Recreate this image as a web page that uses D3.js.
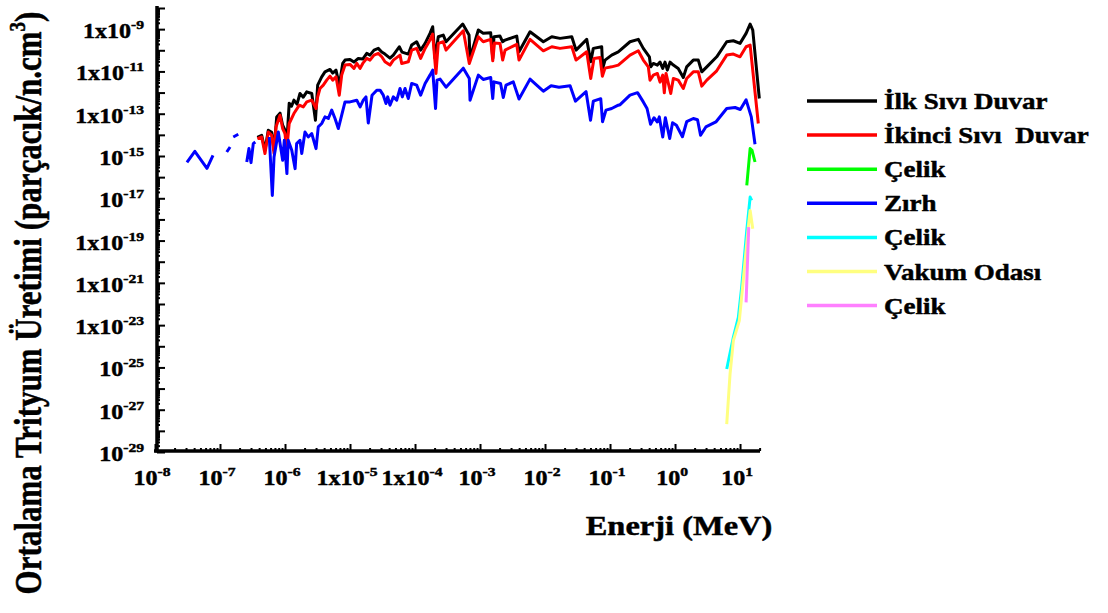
<!DOCTYPE html>
<html><head><meta charset="utf-8">
<script src="https://cdn.jsdelivr.net/npm/d3@7"></script>
<style>
html,body{margin:0;padding:0;background:#fff;}
text{font-family:"Liberation Serif","Times New Roman",serif;font-weight:bold;fill:#000;stroke:#000;stroke-width:0.45px;}
</style></head>
<body><svg id="chart" width="1108" height="613"></svg>
<script>
// ---------------- data ----------------
const seriesNames = ["İlk Sıvı Duvar","İkinci Sıvı  Duvar","Çelik","Zırh","Çelik","Vakum Odası","Çelik"];
const seriesColors = ["#000000","#ff0000","#00ff00","#0000ff","#00ffff","#ffff80","#ff80ff"];

const blackE = [3.75e-7,4.38e-7,4.92e-7,5.53e-7,6.24e-7,6.78e-7,7.45e-7,8.38e-7,9.2e-7,1.0e-6,1.06e-6,1.16e-6,1.26e-6,1.37e-6,1.53e-6,1.70e-6,1.91e-6,2.16e-6,2.58e-6,2.94e-6,3.18e-6,3.67e-6,4.12e-6,4.92e-6,5.42e-6,6.09e-6,6.84e-6,7.72e-6,8.38e-6,1.0e-5,1.15e-5,1.34e-5,1.57e-5,1.81e-5,2.03e-5,2.34e-5,2.72e-5,3.08e-5,3.45e-5,4.12e-5,4.64e-5,5.73e-5,6.31e-5,7.89e-5,8.89e-5,1.06e-4,1.22e-4,1.43e-4,1.70e-4,1.87e-4,2.03e-4,2.28e-4,2.72e-4,3.0e-4,5.42e-4,6.78e-4,7.02e-4,9.42e-4,1.12e-3,1.46e-3,1.57e-3,1.64e-3,2.03e-3,2.23e-3,2.43e-3,3.67e-3,3.98e-3,5.88e-3,9.42e-3,1.27e-2,1.70e-2,2.58e-2,3.0e-2,4.38e-2,5.05e-2,5.53e-2,7.45e-2,7.72e-2,8.38e-2,0.106,0.134,0.203,0.272,0.325,0.403,0.423,0.464,0.535,0.588,0.647,0.702,0.762,0.838,0.942,1.12,1.34,1.51,1.91,2.28,2.58,3.08,4.38,6.24,7.89,10.0,12.4,14.3,15.7,19.8];
const blackV = [7.69e-15,9.57e-15,1.86e-15,1.65e-14,1.33e-14,1.86e-15,7.05e-14,1.06e-13,2.85e-14,1.65e-14,3.21e-15,3.15e-13,2.26e-13,4.37e-13,2.82e-13,9.06e-13,6.05e-13,1.08e-12,9.06e-13,4.92e-14,2.24e-12,5.55e-12,9.57e-12,1.24e-11,8.3e-12,1.15e-11,2.24e-12,2.39e-11,3.44e-11,3.71e-11,2.76e-11,4.13e-11,3.83e-11,7.13e-11,5.93e-11,1.02e-10,1.23e-10,8.22e-11,6.61e-11,4.27e-11,5.93e-11,1.47e-10,8.22e-11,6.61e-11,1.76e-10,2.53e-10,1.02e-10,2.12e-10,6.32e-10,1.30e-9,4.13e-11,4.37e-10,5.25e-10,2.53e-10,1.75e-9,5.25e-10,4.27e-11,9.06e-10,6.32e-10,6.75e-10,4.13e-11,4.37e-10,4.71e-10,2.53e-10,3.04e-10,4.71e-10,8.49e-11,7.53e-10,2.53e-10,4.37e-10,3.66e-10,4.37e-10,1.02e-10,3.29e-10,2.85e-11,1.23e-10,1.47e-10,1.39e-11,3.44e-11,5.93e-11,8.49e-11,2.53e-10,3.29e-10,1.23e-10,4.92e-11,1.65e-11,2.39e-11,1.99e-11,2.76e-11,1.39e-11,2.76e-11,1.15e-11,2.76e-11,1.99e-11,1.39e-11,5.2e-12,1.65e-11,3.44e-11,3.44e-11,9.57e-12,1.65e-11,4.92e-11,2.53e-10,2.82e-10,2.12e-10,6.32e-10,1.75e-9,9.06e-10,5.25e-13];

const redE = [3.75e-7,4.38e-7,4.92e-7,5.53e-7,6.24e-7,6.78e-7,7.27e-7,8.38e-7,9.2e-7,1.0e-6,1.06e-6,1.16e-6,1.37e-6,1.66e-6,1.91e-6,2.16e-6,2.58e-6,3.0e-6,3.18e-6,3.45e-6,3.88e-6,4.38e-6,4.92e-6,5.42e-6,6.09e-6,6.84e-6,7.45e-6,8.38e-6,1.0e-5,1.15e-5,1.27e-5,1.43e-5,1.57e-5,1.81e-5,2.03e-5,2.34e-5,2.72e-5,3.08e-5,3.45e-5,4.12e-5,4.64e-5,5.88e-5,6.24e-5,7.89e-5,8.89e-5,1.06e-4,1.22e-4,1.43e-4,1.70e-4,1.87e-4,2.1e-4,2.28e-4,2.72e-4,3.0e-4,5.53e-4,6.84e-4,9.42e-4,1.12e-3,1.46e-3,1.57e-3,1.67e-3,2.03e-3,2.23e-3,2.43e-3,3.67e-3,3.98e-3,5.88e-3,9.42e-3,1.27e-2,1.70e-2,2.58e-2,3.0e-2,4.38e-2,5.05e-2,5.67e-2,7.02e-2,7.62e-2,8.38e-2,0.106,0.134,0.203,0.272,0.325,0.388,0.412,0.464,0.535,0.588,0.647,0.684,0.727,0.859,0.942,1.12,1.34,1.51,1.91,2.28,2.58,3.08,4.38,6.24,7.89,10.0,12.4,14.3,19.1];
const redV = [6.68e-15,7.94e-15,1.30e-15,1.37e-14,9.57e-15,1.30e-15,2.37e-14,8.49e-14,1.99e-14,1.15e-14,1.86e-15,3.44e-14,1.02e-13,2.53e-13,2.1e-13,3.62e-13,4.37e-13,1.76e-13,6.25e-13,1.56e-12,2.24e-12,3.87e-12,5.98e-12,3.87e-12,5.55e-12,7.53e-13,6.68e-12,1.99e-11,2.15e-11,1.39e-11,2.39e-11,1.39e-11,2.39e-11,4.13e-11,3.44e-11,5.93e-11,7.13e-11,4.92e-11,2.85e-11,1.99e-11,3.44e-11,5.93e-11,2.39e-11,2.85e-11,1.02e-10,1.23e-10,4.13e-11,1.23e-10,3.04e-10,5.86e-10,8.04e-12,2.12e-10,2.53e-10,1.02e-10,8.4e-10,2.39e-11,4.37e-10,2.53e-10,3.29e-10,3.18e-11,2.19e-10,2.12e-10,3.44e-11,1.02e-10,1.91e-10,3.44e-11,3.29e-10,9.47e-11,1.47e-10,1.23e-10,1.47e-10,3.44e-11,8.49e-11,4.66e-12,4.13e-11,4.61e-11,5.98e-12,1.43e-11,1.65e-11,1.99e-11,5.93e-11,9.47e-11,3.44e-11,1.65e-11,3.87e-12,6.68e-12,8.04e-12,3.11e-12,6.68e-12,9.68e-13,8.04e-12,9.06e-13,4.66e-12,3.87e-12,1.56e-12,4.66e-12,9.57e-12,9.57e-12,2.01e-12,3.87e-12,1.07e-11,5.93e-11,6.61e-11,4.92e-11,1.47e-10,1.76e-10,3.44e-14];

const greenE = [12.7,14.3,15.3,17.0];
const greenV = [4.08e-17,2.24e-15,1.86e-15,5.2e-16];

const blueE = [3.1e-8,4.1e-8,6.3e-8,7.8e-8,1.0e-7,1.27e-7,1.43e-7,1.5e-7,1.6e-7,1.91e-7,2.18e-7,2.58e-7,2.79e-7,3.0e-7,3.25e-7,3.49e-7,4.43e-7,5.73e-7,6.38e-7,6.78e-7,7.89e-7,9.2e-7,9.75e-7,1.07e-6,1.12e-6,1.27e-6,1.43e-6,1.51e-6,1.70e-6,1.81e-6,2.03e-6,2.28e-6,2.58e-6,3.0e-6,3.25e-6,3.67e-6,4.12e-6,4.64e-6,5.23e-6,5.88e-6,6.61e-6,7.45e-6,8.38e-6,1.0e-5,1.27e-5,1.43e-5,1.6e-5,1.76e-5,1.91e-5,2.18e-5,2.58e-5,2.9e-5,3.25e-5,3.58e-5,3.8e-5,4.12e-5,4.64e-5,5.23e-5,5.88e-5,6.38e-5,7.02e-5,7.89e-5,8.89e-5,1.06e-4,1.22e-4,1.43e-4,1.70e-4,1.87e-4,2.07e-4,2.18e-4,2.43e-4,3.0e-4,5.53e-4,6.84e-4,7.02e-4,9.42e-4,1.12e-3,1.46e-3,1.57e-3,1.64e-3,2.07e-3,2.28e-3,2.51e-3,3.25e-3,3.98e-3,5.88e-3,9.42e-3,1.24e-2,1.64e-2,2.43e-2,2.94e-2,4.28e-2,5.01e-2,5.53e-2,7.2e-2,7.67e-2,8.67e-2,0.106,0.134,0.143,0.203,0.265,0.325,0.371,0.42,0.475,0.535,0.573,0.647,0.71,0.828,0.916,1.05,1.30,1.51,1.91,2.22,2.47,2.98,4.25,6.24,8.38,10.1,12.4,14.9,17.0];
const blueV = [5.0e-16,1.67e-15,2.61e-16,1.08e-15,null,1.55e-15,2.67e-15,null,7.94e-15,1.07e-14,null,5.2e-16,2.24e-15,4.86e-16,3.87e-15,4.61e-15,null,7.94e-15,1.37e-17,8.97e-16,1.37e-14,6.25e-16,5.55e-15,1.47e-16,5.55e-15,1.86e-15,2.53e-16,3.87e-15,5.55e-15,1.30e-15,1.37e-14,7.94e-15,1.15e-14,2.24e-15,2.37e-14,3.44e-14,7.05e-14,5.93e-14,1.47e-13,5.93e-14,1.99e-14,8.49e-14,3.62e-13,3.62e-13,4.37e-13,2.1e-13,4.37e-13,6.25e-13,3.66e-14,7.53e-13,1.30e-12,1.30e-12,7.53e-13,3.04e-13,6.25e-13,2.53e-13,6.25e-13,4.37e-13,1.56e-12,6.25e-13,1.56e-12,5.25e-13,2.7e-12,2.24e-12,7.53e-13,2.7e-12,6.68e-12,1.15e-11,1.76e-13,3.87e-12,4.32e-12,1.80e-12,1.43e-11,4.66e-12,4.37e-13,6.68e-12,4.18e-12,5.2e-12,5.25e-13,3.21e-12,2.7e-12,5.86e-13,2.24e-12,3.21e-12,4.98e-13,4.32e-12,1.16e-12,2.12e-12,1.80e-12,2.12e-12,3.91e-13,1.10e-12,4.92e-14,3.91e-13,5.14e-13,4.18e-14,1.47e-13,1.76e-13,2.53e-13,2.67e-13,7.53e-13,9.9e-13,3.62e-13,1.76e-13,3.18e-14,6.46e-14,4.08e-14,7.05e-14,7.94e-15,6.46e-14,6.68e-15,3.74e-14,2.85e-14,8.13e-15,4.18e-14,5.93e-14,5.2e-14,9.57e-15,2.37e-14,4.08e-14,1.76e-13,1.97e-13,1.58e-13,4.51e-13,7.05e-14,3.59e-15];

const cyanE = [6.24,7.89,9.42,10.6,12.7,14.3,15.1];
const cyanV = [8.4e-26,2.64e-24,2.34e-23,6.18e-22,3.01e-19,1.14e-17,7.94e-18];

const yellowE = [6.24,7.02,7.89,9.75,11.2,13.4,14.3,15.7];
const yellowV = [2.08e-28,4.86e-26,1.84e-24,1.63e-23,1.29e-21,4.32e-19,2.67e-18,3.62e-19];

const pinkE = [12.4,13.6];
const pinkV = [1.2e-22,4.32e-19];

const xTickValues = [1e-8,1e-7,1e-6,1e-5,1e-4,1e-3,1e-2,1e-1,1,10];
const xTickBase = ["10","10","10","1x10","1x10","10","10","10","10","10"];
const xTickSup  = ["-8","-7","-6","-5","-4","-3","-2","-1","0","1"];
const yTickValues = [1e-9,1e-11,1e-13,1e-15,1e-17,1e-19,1e-21,1e-23,1e-25,1e-27,1e-29];
const yTickBase = ["1x10","1x10","1x10","10","10","1x10","1x10","1x10","10","10","10"];
const yTickSup  = ["-9","-11","-13","-15","-17","-19","-21","-23","-25","-27","-29"];
const xTitle = "Enerji (MeV)";
const yTitle = "Ortalama Trityum Üretimi (parçacık/n.cm";

// ---------------- drawing ----------------
const SX = 1.2; // horizontal stretch of the lettering
const svg = d3.select("#chart");
svg.append("rect").attr("width",1108).attr("height",613).attr("fill","#fff");

const xs = d3.scaleLog().domain([1e-8, 20]).range([155, 759.6]);
const ys = d3.scaleLog().domain([1e-29, 1e-8]).range([452, 8]);

const xMinor = [], yMinor = [], xMajor = [], yMajor = [];
for (let e = -8; e <= 1; e++) { xMajor.push(Math.pow(10, e)); for (let k = 2; k <= 9; k++) { const v = k * Math.pow(10, e); if (v <= 20) xMinor.push(v); } }
for (let e = -29; e <= -8; e++) { yMajor.push(Math.pow(10, e)); if (e < -8) for (let k = 2; k <= 9; k++) yMinor.push(k * Math.pow(10, e)); }

function styleAxis(g){
  g.select(".domain").attr("stroke","#000").attr("stroke-width",3.5);
  g.selectAll(".tick line").attr("stroke","#000").attr("stroke-width",2);
}
const gxMinor = svg.append("g").attr("transform","translate(0,451)")
  .call(d3.axisBottom(xs).tickValues(xMinor).tickSize(-3).tickSizeOuter(0).tickFormat(""));
styleAxis(gxMinor);
gxMinor.select(".domain").remove();
const gx = svg.append("g").attr("transform","translate(0,451)")
  .call(d3.axisBottom(xs).tickValues(xMajor).tickSize(-7).tickSizeOuter(0).tickFormat(""));
styleAxis(gx);
gx.select(".domain").attr("d","M154,0H760");

const gyMinor = svg.append("g").attr("transform","translate(157,0)")
  .call(d3.axisLeft(ys).tickValues(yMinor).tickSize(-3).tickSizeOuter(0).tickFormat(""));
styleAxis(gyMinor);
gyMinor.select(".domain").remove();
const gy = svg.append("g").attr("transform","translate(157,0)")
  .call(d3.axisLeft(ys).tickValues(yMajor).tickSize(-8).tickSizeOuter(0).tickFormat(""));
styleAxis(gy);
gy.select(".domain").attr("d","M0,6V452.5");

// tick labels
xTickValues.forEach((v,i)=>{
  const t = svg.append("text").attr("transform",`translate(${xs(v) - 3},485) scale(${SX},1)`)
    .attr("text-anchor","middle").attr("font-size",20);
  t.append("tspan").text(xTickBase[i]);
  t.append("tspan").attr("dy",-9).attr("font-size",13).text(xTickSup[i]);
});
yTickValues.forEach((v,i)=>{
  const t = svg.append("text").attr("transform",`translate(144,${ys(v) + 9}) scale(${SX},1)`)
    .attr("text-anchor","end").attr("font-size",20);
  t.append("tspan").text(yTickBase[i]);
  t.append("tspan").attr("dy",-9).attr("font-size",13).text(yTickSup[i]);
});

// titles
svg.append("text").attr("transform",`translate(679,535) scale(1.16,1)`)
  .attr("text-anchor","middle").attr("font-size",28).text(xTitle);
const yt = svg.append("text").attr("transform","translate(41,303) rotate(-90) scale(1,1.2)")
  .attr("text-anchor","middle").attr("font-size",31);
yt.append("tspan").text(yTitle);
yt.append("tspan").attr("dy",-13).attr("font-size",19).text("3");
yt.append("tspan").attr("dy",13).text(")");

// series
const allSeries = [
  [blackE, blackV], [redE, redV], [greenE, greenV], [blueE, blueV],
  [cyanE, cyanV], [yellowE, yellowV], [pinkE, pinkV]
];
const line = d3.line().defined(d => d[1] != null).x(d => xs(d[0])).y(d => ys(d[1]));
allSeries.forEach((s, i) => {
  const pts = s[0].map((e, j) => [e, s[1][j]]);
  svg.append("path").attr("d", line(pts)).attr("fill","none")
    .attr("stroke", seriesColors[i]).attr("stroke-width", 3)
    .attr("stroke-linejoin","round").attr("stroke-linecap","butt");
});

// legend
const lg = svg.append("g");
seriesNames.forEach((n, i) => {
  const y = 101 + i * 34.1;
  lg.append("line").attr("x1", 807).attr("x2", 877).attr("y1", y).attr("y2", y)
    .attr("stroke", seriesColors[i]).attr("stroke-width", 3.5);
  lg.append("text").attr("transform",`translate(884,${y + 8}) scale(${SX},1)`).attr("font-size", 22.5)
    .style("white-space","pre").text(n);
});
</script></body></html>
